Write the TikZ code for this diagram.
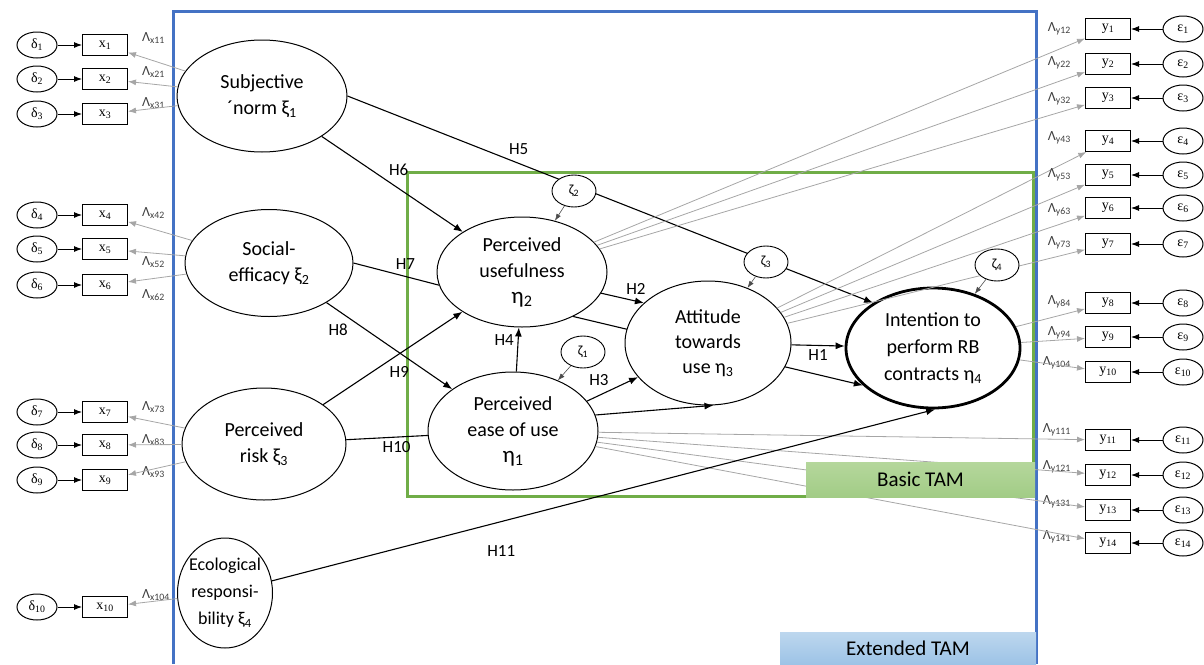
\documentclass[tikz,border=0pt]{standalone}
\usepackage{fontspec}
\setmainfont{Carlito}
\newfontfamily\timesfont{Liberation Serif}
\usetikzlibrary{shapes.geometric,arrows.meta,quotes}

\definecolor{tamblue}{HTML}{4472C4}
\definecolor{tamgreen}{HTML}{70AD47}
\definecolor{loadgray}{HTML}{A6A6A6}
\definecolor{basictop}{HTML}{B5D79C}
\definecolor{basicbot}{HTML}{A2CC86}
\definecolor{exttop}{HTML}{BDD7EE}
\definecolor{extbot}{HTML}{9DC3E6}

\tikzset{
  latent/.style={ellipse, draw, line width=1pt, fill=white, inner sep=0pt, align=center, font=\fontsize{20}{26}\selectfont},
  dist/.style={ellipse, draw, line width=0.9pt, fill=white, inner sep=0pt, minimum width=44pt, minimum height=32pt, font=\fontsize{14}{14}\selectfont},
  errnode/.style={ellipse, draw, line width=1pt, inner sep=0pt, minimum width=40pt, minimum height=26pt, font=\timesfont\fontsize{14}{14}\selectfont},
  indbox/.style={rectangle, draw, line width=1pt, inner sep=0pt, minimum width=45pt, minimum height=21pt, font=\timesfont\fontsize{14}{14}\selectfont},
  lam/.style={font=\fontsize{14}{14}\selectfont, text=black!75, inner sep=0pt},
  hyp/.style={line width=1.1pt, -{Latex[length=9pt,width=7pt]}, auto, font=\fontsize{17}{17}\selectfont},
  distarrow/.style={line width=0.6pt, black!70, -{Latex[length=7pt,width=5pt]}},
  errarrow/.style={line width=0.9pt, -{Latex[length=8pt,width=6pt]}},
  load/.style={loadgray, line width=0.8pt, -{Latex[length=8pt,width=6pt]}},
  tamtag/.style={inner sep=0pt, font=\fontsize{21}{21}\selectfont}
}

\begin{document}
\begin{tikzpicture}[x=1pt, y=-1pt]
\useasboundingbox (0,0) rectangle (1204,664);
% frames
\draw[tamgreen, line width=3pt] (407,172) rectangle (1033,496);
\draw[tamblue, line width=3pt] (173,664) -- (173,11) -- (1036,11) -- (1036,664);

% exogenous constructs
\node[latent, minimum width=170pt, minimum height=112pt] (sn) at (262,96) {Subjective\\´norm ξ\textsubscript{1}};
\node[latent, minimum width=168pt, minimum height=107pt] (se) at (269,263) {Social-\\efficacy ξ\textsubscript{2}};
\node[latent, minimum width=164pt, minimum height=112pt] (pr) at (264,444) {Perceived\\risk ξ\textsubscript{3}};
\node[latent, minimum width=95pt, minimum height=110pt, inner xsep=-8pt, font=\fontsize{18}{27}\selectfont] (er) at (225,593) {Ecological\\responsi-\\bility ξ\textsubscript{4}};

% endogenous constructs
\node[latent, minimum width=170pt, minimum height=110pt] (pu) at (522,272) {Perceived\\usefulness\\{\fontsize{23}{26}\selectfont η\textsubscript{2}}};
\node[latent, minimum width=170pt, minimum height=118pt] (peou) at (513,431) {Perceived\\ease of use\\{\fontsize{23}{26}\selectfont η\textsubscript{1}}};
\node[latent, line width=2.8pt, minimum width=174pt, minimum height=120pt, font=\fontsize{20}{27}\selectfont] (int) at (933,348) {Intention to\\perform RB\\contracts η\textsubscript{4}};

% paths running behind the disturbances and the attitude
\draw[hyp] (sn.0) -- node[pos=0.3] {H5} (int.143);
\draw[hyp] (pu.-41) -- (int.208);
\node[latent, minimum width=166pt, minimum height=124pt, font=\fontsize{20}{25}\selectfont] (att) at (708,343) {Attitude\\towards\\use η\textsubscript{3}};

% measurement model, left
\foreach \i/\yy/\lat/\lsub/\dy in {1/45/sn/11/7, 2/79/sn/21/7, 3/114/sn/31/11, 4/215/se/42/2, 5/249/se/52/-13, 6/285/se/62/-10, 7/412/pr/73/5, 8/445/pr/83/5, 9/480/pr/93/8, 10/607/er/104/12}{
  \node[errnode] (d\i) at (37,\yy) {δ\textsubscript{\i}};
  \node[indbox, label={[lam, xshift=14pt, yshift=\dy pt]right:{Λ\textsubscript{x\lsub}}}] (x\i) at (105,\yy) {x\textsubscript{\i}};
  \draw[errarrow] (d\i) -- (x\i);
  \draw[load] (\lat) -- (x\i);
}

% measurement model, right
\foreach \i/\yy/\lat/\lsub/\dy in {1/29/pu/12/0, 2/64/pu/22/1, 3/98/pu/32/-1, 4/141/att/43/3, 5/175/att/53/0, 6/208/att/63/-2, 7/244/att/73/1, 8/303/int/84/1, 9/337/int/94/4, 10/372/int/104/9, 11/440/peou/111/10, 12/475/peou/121/8, 13/510/peou/131/8, 14/543/peou/141/6}{
  \node[errnode] (e\i) at (1183,\yy) {ε\textsubscript{\i}};
  \node[indbox, label={[lam, xshift=-14pt, yshift=\dy pt]left:{Λ\textsubscript{y\lsub}}}] (y\i) at (1108,\yy) {y\textsubscript{\i}};
  \draw[errarrow] (e\i) -- (y\i);
  \draw[load] (\lat) -- (y\i);
}

% disturbances
\node[dist] (z1) at (583,352) {ζ\textsubscript{1}};
\node[dist] (z2) at (574,191) {ζ\textsubscript{2}};
\node[dist] (z3) at (766,262) {ζ\textsubscript{3}};
\node[dist] (z4) at (997,265) {ζ\textsubscript{4}};
\foreach \z/\t in {z1/peou, z2/pu, z3/att, z4/int}
  \draw[distarrow] (\z) -- (\t);

% hypotheses
\draw[hyp] (sn) -- node[pos=0.45] {H6} (pu);
\draw[hyp, -] (se.0) -- node[pos=0.45] {H7} (pu.189);
\draw[hyp] (se) -- node[swap, pos=0.2] {H8} (peou);
\draw[hyp] (pr) -- node[swap, pos=0.45] {H9} (pu);
\draw[hyp, -] (pr) -- node[swap, pos=0.4] {H10} (peou);
\draw[hyp] (er) -- node[swap, pos=0.3, inner sep=16pt] {H11} (int.-88);
\draw[hyp] (peou) to ["H4"] (pu);
\draw[hyp] (pu.-15) to ["H2"] (att.148);
\draw[hyp] (peou.22) to ["H3"] (att.206);
\draw[hyp] (peou.11) -- (att.-85);
\draw[hyp] (att) to ["H1"'] (int);

% model tags
\node[tamtag, top color=basictop, bottom color=basicbot, minimum width=229pt, minimum height=35pt] (basic) at (920.5,479.5) {Basic TAM};
\node[tamtag, top color=exttop, bottom color=extbot, minimum width=256pt, minimum height=32pt] (ext) at (908,648) {Extended TAM};
\end{tikzpicture}
\end{document}
